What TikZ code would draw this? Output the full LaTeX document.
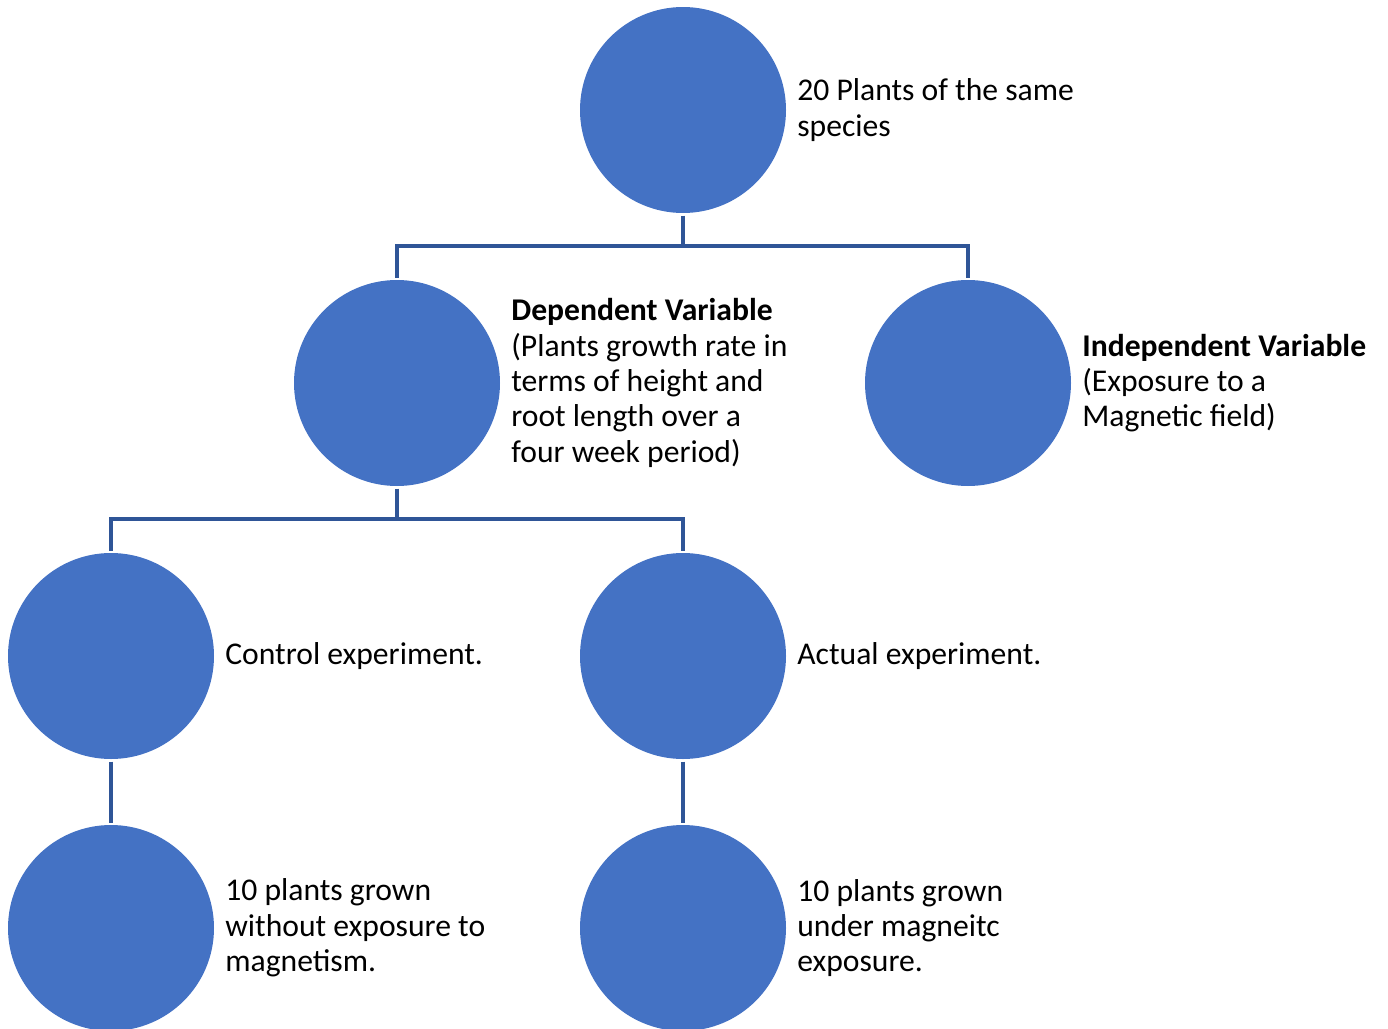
\documentclass[tikz,border=0pt]{standalone}
\usepackage{fontspec}
\setmainfont{Carlito}
\usetikzlibrary{positioning}
\definecolor{blobblue}{HTML}{4472C4}
\definecolor{linkblue}{HTML}{2F5597}
\begin{document}
\begin{tikzpicture}[line cap=butt,line join=miter,font=\fontsize{18}{20.1}\selectfont,
	blob/.style={circle,fill=blobblue,minimum size=4.12cm,inner sep=0pt,outer sep=0.05cm},
	txt/.style={align=left,inner sep=0pt,text=black},
	link/.style={draw=linkblue,line width=1.8pt}]
	\useasboundingbox (0,0) rectangle (27.76,-20.58);
	% circles
	\node[blob] (top) at (13.66,-2.2) {};
	\node[blob] (dep) at (7.94,-7.66) {};
	\node[blob] (ind) at (19.36,-7.66) {};
	\node[blob] (ctrl) at (2.22,-13.12) {};
	\node[blob] (act) at (13.66,-13.12) {};
	\node[blob] (ctrlp) at (2.22,-18.56) {};
	\node[blob] (actp) at (13.66,-18.56) {};
	% texts
	\node[txt,right=0.17cm of top] (toptxt) {20 Plants of the same\\species};
	\node[txt,right=0.17cm of dep] (deptxt) {\textbf{Dependent Variable}\\(Plants growth rate in\\terms of height and\\root length over a\\four week period)};
	\node[txt,right=0.17cm of ind] (indtxt) {\textbf{Independent Variable}\\(Exposure to a\\Magnetic field)};
	\node[txt,right=0.17cm of ctrl] (ctrltxt) {Control experiment.};
	\node[txt,right=0.17cm of act] (acttxt) {Actual experiment.};
	\node[txt,right=0.17cm of ctrlp] (ctrlptxt) {10 plants grown\\without exposure to\\magnetism.};
	\node[txt,right=0.17cm of actp] (actptxt) {10 plants grown\\under magneitc\\exposure.};
	% connectors
	\coordinate (jtop) at (13.66,-4.92);
	\coordinate (jdep) at (7.94,-10.38);
	\draw[link] (top.south) -- (jtop);
	\draw[link] (dep.north) |- (jtop) -| (ind.north);
	\draw[link] (dep.south) -- (jdep);
	\draw[link] (ctrl.north) |- (jdep) -| (act.north);
	\draw[link] (ctrl.south) -- (ctrlp.north);
	\draw[link] (act.south) -- (actp.north);
\end{tikzpicture}
\end{document}
